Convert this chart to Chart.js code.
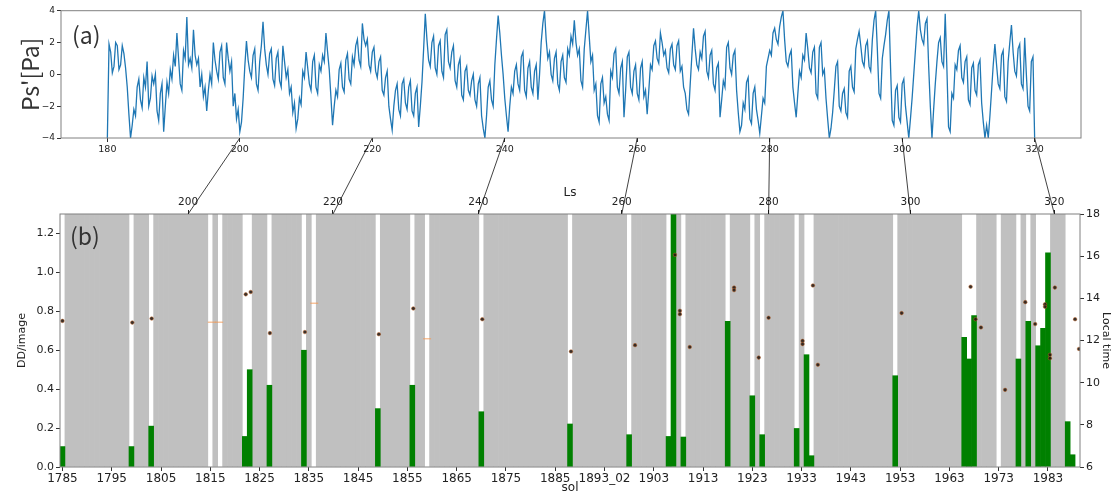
<!DOCTYPE html>
<html><head><meta charset="utf-8">
<script src="https://cdn.jsdelivr.net/npm/chart.js"></script>
<style>
html,body{margin:0;padding:0;background:#fff;}
#wrap{position:relative;width:1116px;height:498px;overflow:hidden;background:#fff;}
canvas{position:absolute;left:0;}
#c1{top:0;}
#c2{top:160px;}
#ov{top:0;pointer-events:none;}
</style></head><body>
<div id="wrap">
<canvas id="c1" width="1116" height="160"></canvas>
<canvas id="c2" width="1116" height="338"></canvas>
<canvas id="ov" width="1116" height="498"></canvas>
</div>
<script>
// ---------- panel (a): Ps' versus Ls (samples every 0.25 Ls from 180) ----------
const lsStart = 180, lsStep = 0.25;
const psValues = [
 -4.0, 1.9, 1.4, 0.1, 0.5, 2.0, 1.8, 0.3, 0.6, 1.8, 1.3, 0.4, -0.8, -2.5, -4.0, -3.2, -2.2, -2.6, -0.8, -0.3,
 -1.6, -2.1, -0.2, -0.8, 0.8, -2.0, -1.5, -0.1, -0.6, 0.0, -2.3, -2.9, -1.2, -0.6, -3.6, -2.0, -0.5, -1.2, 0.3, -0.3,
 1.2, 0.5, 2.6, 1.0, -0.6, -1.0, 1.5, 1.0, 3.6, 0.6, 1.0, 0.4, 2.8, 1.2, 0.6, 1.0, -0.8, 0.0, -1.4, -0.8,
 -2.3, -1.0, 0.0, -0.6, 2.0, 0.9, 0.2, -0.3, 1.4, 1.8, -0.2, -0.6, 2.0, 1.0, 0.2, 0.8, -2.0, -1.2, -2.8, -2.2,
 -3.6, -3.0, -1.5, 0.5, 2.1, 0.9, 0.2, -0.2, 1.2, 1.6, -0.6, -1.0, 0.8, 1.8, 3.3, 1.6, 0.6, 0.0, 1.3, 1.6,
 -0.3, -0.7, 1.0, 1.4, -0.4, -0.8, 1.8, 0.8, -0.2, 0.3, -1.2, -0.8, -2.4, -1.8, -3.4, -2.8, -1.5, -1.9, 0.2, -0.2,
 1.4, 0.4, -0.6, -1.0, 0.8, 1.2, -0.8, -1.2, 0.6, 0.2, 1.2, 0.8, 2.6, 1.4, 0.3, -1.4, -3.2, -2.0, -1.0, -1.4,
 0.3, 0.7, -0.8, -1.1, 0.9, 1.3, -0.3, -0.6, 1.1, 0.6, 1.8, 2.2, 0.9, 0.5, 3.2, 2.2, 1.8, 2.2, 0.6, 0.2,
 1.4, 1.7, 0.2, -0.2, 0.8, 1.1, -1.0, -1.3, -0.2, 0.2, -2.0, -2.8, -3.5, -2.0, -1.0, -0.6, -2.2, -2.6, -0.6, -0.3,
 -1.8, -2.2, -0.8, -0.4, -2.3, -2.6, -1.2, -0.8, -3.3, -2.0, -0.5, 1.6, 3.8, 2.2, 0.9, 0.5, 2.0, 2.4, 0.4, 0.0,
 1.8, 2.1, 0.2, -0.2, 2.5, 2.8, 0.8, 0.4, 1.4, 1.8, -0.4, -0.8, 0.6, 1.0, -1.3, -1.6, 0.2, 0.5, -1.0, -1.3,
 -0.4, 0.0, -1.6, -2.0, -0.6, -0.2, -2.6, -3.4, -4.0, -2.6, -0.8, -0.4, -1.6, -2.0, 0.6, 2.2, 3.7, 2.6, 1.2, 0.0,
 -1.5, -2.6, -3.6, -2.0, -0.8, -1.2, 0.2, 0.6, -0.6, -1.0, 1.1, 1.4, -1.0, -1.4, 0.4, 0.8, -0.8, -1.2, 0.2, 0.6,
 -1.6, 0.0, 2.0, 3.2, 4.0, 2.2, 1.0, 1.4, 0.0, -0.4, 1.0, 1.4, -0.6, -1.0, 0.8, 1.2, -0.2, -0.5, 1.6, 1.2,
 2.4, 1.9, 3.4, 2.0, 1.2, 1.6, -0.4, -0.8, 1.6, 2.8, 4.0, 2.4, 0.8, 1.2, -1.0, -0.6, -2.6, -3.0, -0.6, -0.2,
 -1.8, -1.4, -2.5, -2.9, 0.2, -0.2, 1.3, 1.6, -0.8, -1.2, 0.4, 0.8, -2.7, -1.0, 1.1, 1.4, -0.8, -1.2, 0.2, 0.6,
 -1.2, -1.6, 0.4, 0.8, -1.4, -1.0, -2.5, -1.0, 0.6, 0.3, 1.8, 2.1, 1.0, 0.7, 2.6, 2.0, 1.2, 1.5, 0.4, 0.1,
 1.6, 1.9, 0.6, 0.3, 1.8, 2.1, 0.2, 0.5, -0.8, -1.2, -2.2, -2.5, -0.6, 1.2, 2.9, 1.6, 0.6, 0.3, 1.4, 1.0,
 2.4, 2.7, 0.2, -0.2, 1.2, 1.5, -0.6, -1.0, 0.4, 0.7, -2.7, -1.6, -0.4, -0.8, 1.7, 2.0, 0.4, 0.0, 1.2, 1.5,
 -1.0, -2.4, -3.6, -3.2, -1.8, -2.2, -0.5, -0.2, -2.8, -3.1, -1.2, -0.8, -2.2, -2.9, -3.7, -2.6, -1.5, -1.8, 0.5, 1.0,
 1.5, 1.2, 2.6, 2.9, 2.2, 1.9, 3.0, 3.6, 4.0, 2.2, 0.8, 0.5, 1.2, 1.5, -0.8, -1.8, -2.7, -1.2, 0.2, -0.2,
 1.2, 0.9, 2.6, 1.6, 0.4, 0.1, 1.4, 1.7, -1.2, -1.5, 1.7, 2.0, 0.0, 0.3, -1.5, -2.8, -4.0, -3.4, -2.4, -1.0,
 0.5, 0.8, -2.0, -2.3, -1.2, -0.9, -2.4, -2.7, 0.2, 0.5, -0.8, -1.1, 1.6, 2.2, 2.7, 1.8, 0.8, 0.5, 1.8, 2.1,
 0.5, 0.2, 2.2, 3.4, 4.0, 1.6, -1.2, -1.5, 1.0, 1.8, 2.5, 3.4, 4.0, 0.4, -2.9, -3.2, -1.0, -0.7, -2.7, -3.0,
 -0.6, -0.3, -2.0, -3.0, -4.0, -2.8, -1.5, 0.0, 1.5, 3.0, 4.0, 2.8, 2.2, 1.9, 3.2, 3.5, 0.5, -2.0, -4.0, -2.2,
 -0.6, 0.8, 2.0, 2.3, 0.8, 0.5, 3.8, 0.4, -3.3, -3.6, -1.2, -1.5, 0.6, 0.3, 1.5, 1.8, -0.2, -0.5, 0.8, 1.1,
 -1.6, -1.9, 0.4, 0.7, -1.0, -1.3, 0.6, 0.9, -1.8, -3.0, -4.0, -3.2, -4.0, -2.6, -1.0, 0.6, 1.9, 0.6, -0.6, -0.9,
 1.2, 1.5, -1.4, -1.7, 0.8, 2.0, 3.1, 1.4, 0.2, -0.1, 1.6, 1.9, -0.6, -0.9, 2.3, 0.0, -2.0, -2.3, 0.8, 1.1,
 -4.0
];
const lsAxisTicks = [180, 200, 220, 240, 260, 280, 300, 320];

// ---------- panel (b): DD per image and local time versus sol ----------
const solFirst = 1785, solLast = 1989;
const solExtra = {1893: ['1893_01', '1893_02']};
const observedSols = ['1785','1799','1803','1815','1817','1822','1823','1827','1834','1836',
 '1849','1856','1859','1870','1888','1898','1906','1907','1909','1918','1923','1925','1932',
 '1934','1935','1952','1966','1967','1968','1973','1977','1979','1981','1982','1983','1987','1988','1989'];
const ddSols = ['1785','1799','1803','1822','1823','1827','1834','1849','1856','1870','1888',
 '1898','1906','1907','1909','1918','1923','1925','1932','1934','1935','1952','1966','1967',
 '1968','1977','1979','1981','1982','1983','1987','1988'];
const ddValues = [0.105,0.105,0.21,0.157,0.5,0.42,0.6,0.3,0.42,0.284,0.221,
 0.166,0.157,1.3,0.154,0.748,0.366,0.166,0.198,0.577,0.058,0.469,0.666,0.555,
 0.778,0.555,0.748,0.623,0.712,1.1,0.233,0.063];
// local-time markers: position on the sol index axis, local time [h]
const ltPos = [0.0,14.17,18.1,37.2,38.2,42.1,49.2,64.2,71.2,85.2,103.2,116.2,124.3,125.3,125.3,
 127.3,136.3,136.3,141.3,143.3,150.2,150.2,152.3,153.3,170.3,184.3,185.3,186.4,191.3,195.4,
 197.4,199.4,199.4,200.4,200.4,201.4,205.5,206.3];
const ltValues = [12.93,12.85,13.04,14.19,14.3,12.35,12.4,12.3,13.52,13.01,11.48,11.78,16.06,13.41,13.25,
 11.69,14.51,14.39,11.19,13.08,11.98,11.83,14.61,10.85,13.3,14.55,13.01,12.62,9.66,13.82,
 12.78,13.72,13.6,11.32,11.16,14.51,13.01,11.6];
const dashPos = [30.3, 31.8, 51.1, 74.0];
const dashValues = [12.87, 12.87, 13.77, 12.08];
// Ls tick labels on top of panel (b) and their sol-index positions
const lsTicks = [200, 220, 240, 260, 280, 300, 320];
const lsTickPos = [25.5, 54.9, 84.4, 113.5, 143.3, 172.1, 201.3];

const sols = [];
for (let s = solFirst; s <= solLast; s++) { sols.push(String(s)); if (solExtra[s]) sols.push(...solExtra[s]); }
const N = sols.length;
const DDMAX = 1.3;

const TICKFONT = 'DejaVu Sans';
const framePlugin = {
  id: 'frame',
  afterDraw(chart, args, o) {
    const {ctx, chartArea: a} = chart;
    ctx.save();
    ctx.strokeStyle = '#808080'; ctx.lineWidth = 1;
    ctx.strokeRect(a.left, a.top, a.right - a.left, a.bottom - a.top);
    ctx.fillStyle = '#333'; ctx.font = o.font; ctx.textBaseline = 'middle'; ctx.textAlign = 'left';
    ctx.fillText(o.label, a.left + o.dx, a.top + o.dy);
    ctx.restore();
  }
};
const minus = v => (v < 0 ? '\u2212' + Math.abs(v) : String(v));

// ---------- chart (a) ----------
const chartA = new Chart(document.getElementById('c1'), {
  type: 'line',
  data: { datasets: [{
    data: psValues.map((v, i) => ({x: lsStart + lsStep * i, y: v})),
    borderColor: '#1f77b4', borderWidth: 1.3, pointRadius: 0, tension: 0
  }]},
  options: {
    responsive: false, animation: false, events: [],
    layout: {padding: {top: 10.7, right: 35, left: 0, bottom: 0}, autoPadding: false},
    plugins: {legend: {display: false}, tooltip: {enabled: false},
      frame: {label: '(a)', font: '23px "Noto Sans CJK JP"', dx: 11, dy: 25}},
    scales: {
      x: {type: 'linear', min: 173, max: 327, offset: false,
        afterFit(s) { s.height = 22; },
        afterBuildTicks(s) { s.ticks = lsAxisTicks.map(v => ({value: v})); },
        border: {display: false},
        grid: {drawOnChartArea: false, drawTicks: true, tickLength: 4, color: '#333'},
        ticks: {padding: 1.5, color: '#222', maxRotation: 0, autoSkip: false, font: {family: TICKFONT, size: 9.5}}
      },
      y: {min: -4, max: 4,
        afterFit(s) { s.width = 61; },
        border: {display: false},
        grid: {drawOnChartArea: false, drawTicks: true, tickLength: 4, color: '#333'},
        ticks: {stepSize: 2, padding: 2, color: '#222', font: {family: TICKFONT, size: 9}, callback: v => minus(v)},
        title: {display: true, text: "Ps'[Pa]", color: '#333', font: {family: 'Noto Sans CJK JP', size: 23}, padding: {top: 16, bottom: 0}}
      }
    }
  },
  plugins: [framePlugin]
});

// ---------- chart (b) ----------
const grayData = sols.map(l => (observedSols.includes(l) ? null : DDMAX));
const greenData = sols.map(l => { const k = ddSols.indexOf(l); return k < 0 ? null : ddValues[k]; });

const chartB = new Chart(document.getElementById('c2'), {
  type: 'bar',
  data: {
    labels: sols,
    datasets: [
      {label: 'no data', data: grayData, backgroundColor: '#c0c0c0', grouped: false,
       barPercentage: 1, categoryPercentage: 1, xAxisID: 'x', yAxisID: 'y', order: 3},
      {label: 'DD/image', data: greenData, backgroundColor: '#008000', grouped: false,
       barPercentage: 1, categoryPercentage: 1, xAxisID: 'x', yAxisID: 'y', order: 2},
      {type: 'line', label: 'LT', data: ltPos.map((p, i) => ({x: p, y: ltValues[i]})),
       showLine: false, xAxisID: 'xm', yAxisID: 'y2', order: 1,
       pointRadius: 1.8, pointStyle: 'circle', pointBackgroundColor: 'rgba(35,25,20,0.9)',
       pointBorderColor: 'rgba(190,100,40,0.7)', pointBorderWidth: 0.7},
      {type: 'line', label: 'LT0', data: dashPos.map((p, i) => ({x: p, y: dashValues[i]})),
       showLine: false, xAxisID: 'xm', yAxisID: 'y2', order: 0,
       pointRadius: 4, pointStyle: 'line', pointBorderColor: 'rgba(245,150,80,0.85)', pointBorderWidth: 1}
    ]
  },
  options: {
    responsive: false, animation: false, events: [],
    layout: {padding: 0, autoPadding: false},
    plugins: {legend: {display: false}, tooltip: {enabled: false},
      frame: {label: '(b)', font: '23px "Noto Sans CJK JP"', dx: 10, dy: 22}},
    scales: {
      x: {type: 'category', position: 'bottom', offset: true,
        afterFit(s) { s.height = 31; },
        border: {display: false},
        grid: {drawOnChartArea: false, drawTicks: true, tickLength: 4, color: '#333', offset: false},
        ticks: {autoSkip: false, maxRotation: 0, padding: 1, color: '#222', font: {family: TICKFONT, size: 12},
          callback: (v, i) => (i % 10 === 0 ? sols[i] : null)},
        title: {display: true, text: 'sol', color: '#222', font: {family: TICKFONT, size: 12}, padding: {top: 0, bottom: 2.8}}
      },
      xLs: {type: 'linear', position: 'top', min: -0.5, max: N - 0.5, offset: false,
        afterFit(s) { s.height = 54; },
        afterBuildTicks(s) { s.ticks = lsTickPos.map(v => ({value: v})); },
        border: {display: false},
        grid: {drawOnChartArea: false, drawTicks: true, tickLength: 4, color: '#222', offset: false},
        ticks: {autoSkip: false, maxRotation: 0, padding: 1, color: '#222', font: {family: TICKFONT, size: 10.5},
          callback: (v, i) => String(lsTicks[i])},
        title: {display: true, text: 'Ls', color: '#222', font: {family: TICKFONT, size: 12}, padding: {top: 25.8, bottom: 0}}
      },
      xm: {type: 'linear', display: false, min: -0.5, max: N - 0.5, offset: false},
      y: {position: 'left', min: 0, max: DDMAX,
        afterFit(s) { s.width = 60; },
        border: {display: false},
        grid: {drawOnChartArea: false, drawTicks: true, tickLength: 4, color: '#333'},
        ticks: {stepSize: 0.2, includeBounds: false, padding: 2, color: '#222', font: {family: TICKFONT, size: 11},
          callback: v => Number(v).toFixed(1)},
        title: {display: true, text: 'DD/image', color: '#222', font: {family: TICKFONT, size: 11}, padding: {top: 15.4, bottom: 0}}
      },
      y2: {position: 'right', min: 6, max: 18,
        afterFit(s) { s.width = 36; },
        border: {display: false},
        grid: {drawOnChartArea: false, drawTicks: true, tickLength: 4, color: '#333'},
        ticks: {stepSize: 2, includeBounds: false, padding: 2, color: '#222', font: {family: TICKFONT, size: 11}},
        title: {display: true, text: 'Local time', color: '#222', font: {family: TICKFONT, size: 11}, padding: {top: 3.4, bottom: 0}}
      }
    }
  },
  plugins: [framePlugin]
});

// ---------- connectors between the Ls axes ----------
(function () {
  const ctx = document.getElementById('ov').getContext('2d');
  ctx.strokeStyle = '#111'; ctx.lineWidth = 0.8;
  lsTicks.forEach((ls, k) => {
    const x1 = chartA.scales.x.getPixelForValue(ls);
    const y1 = chartA.chartArea.bottom;
    const x2 = chartB.scales.xLs.getPixelForValue(lsTickPos[k]);
    const y2 = 160 + chartB.chartArea.top;
    ctx.beginPath(); ctx.moveTo(x1, y1); ctx.lineTo(x2, y2); ctx.stroke();
  });
})();
</script>
</body></html>
